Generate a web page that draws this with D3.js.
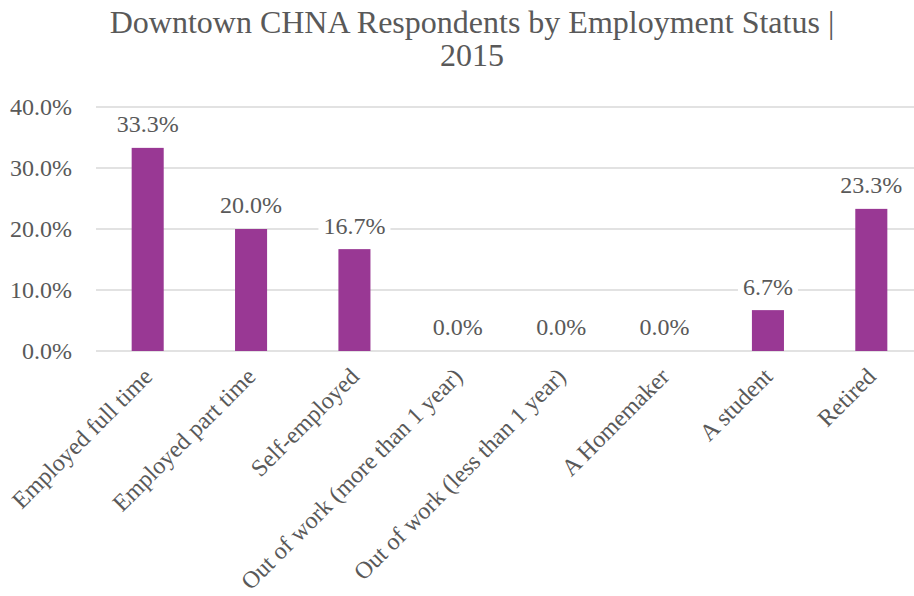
<!DOCTYPE html>
<html>
<head>
<meta charset="utf-8">
<script src="https://cdn.jsdelivr.net/npm/d3@7"></script>
<style>
  html, body { margin: 0; padding: 0; background: #ffffff; }
  svg { display: block; font-family: "Liberation Serif", "Times New Roman", serif; }
</style>
</head>
<body>
<svg id="chart" width="914" height="596"></svg>
<script>
const titleLines = ["Downtown CHNA Respondents by Employment Status |", "2015"];
const categories = [
  "Employed full time",
  "Employed part time",
  "Self-employed",
  "Out of work (more than 1 year)",
  "Out of work (less than 1 year)",
  "A Homemaker",
  "A student",
  "Retired"
];
const values = [0.333, 0.200, 0.167, 0.000, 0.000, 0.000, 0.067, 0.233];
const yTicks = [0, 0.1, 0.2, 0.3, 0.4];

const textColor = "#595959";
const gridColor = "#d9d9d9";
const barColor = "#993894";
const fontFamily = "'Liberation Serif', 'Times New Roman', serif";

const svg = d3.select("#chart");
const plotLeft = 96, plotRight = 923, plotTop = 107, plotBottom = 351;

const x = d3.scaleBand().domain(categories).range([plotLeft, plotRight]).paddingInner(0.69).paddingOuter(0.345);
const y = d3.scaleLinear().domain([0, 0.4]).range([plotBottom, plotTop]);
const fmt = d3.format(".1%");

// Title
svg.append("g").selectAll("text").data(titleLines).join("text")
  .attr("x", 472).attr("y", (d, i) => 33 + i * 33)
  .attr("text-anchor", "middle")
  .attr("fill", textColor)
  .style("font-size", "32px")
  .text(d => d);

// Gridlines
svg.append("g").selectAll("line").data(yTicks).join("line")
  .attr("x1", plotLeft).attr("x2", plotRight)
  .attr("y1", d => y(d)).attr("y2", d => y(d))
  .attr("stroke", gridColor).attr("stroke-width", 1.5);

// Y axis labels
const yAxis = d3.axisLeft(y).tickValues(yTicks).tickFormat(fmt).tickSize(0).tickPadding(24);
const yg = svg.append("g").attr("transform", `translate(${plotLeft},0)`).call(yAxis);
yg.select(".domain").remove();
yg.selectAll("text").attr("fill", textColor).style("font-size", "24px")
  .style("font-family", fontFamily);

// Bars
svg.append("g").selectAll("rect").data(values).join("rect")
  .attr("x", (d, i) => x(categories[i]))
  .attr("width", x.bandwidth())
  .attr("y", d => y(d))
  .attr("height", d => y(0) - y(d))
  .attr("fill", barColor);

// Value labels with white boxes
const lg = svg.append("g").selectAll("g").data(values).join("g")
  .attr("transform", (d, i) => `translate(${x(categories[i]) + x.bandwidth() / 2},${y(d) - 24})`);
lg.append("text")
  .attr("text-anchor", "middle").attr("dy", "0.35em")
  .attr("fill", textColor).style("font-size", "24px")
  .text(d => fmt(d));
lg.each(function() {
  const g = d3.select(this);
  const bb = g.select("text").node().getBBox();
  g.insert("rect", "text")
    .attr("x", bb.x - 5).attr("y", bb.y - 1)
    .attr("width", bb.width + 10).attr("height", bb.height + 2)
    .attr("fill", "#ffffff");
});

// Category labels
const xAxis = d3.axisBottom(x).tickSize(0).tickPadding(0);
const xg = svg.append("g").attr("transform", `translate(0,${plotBottom})`).call(xAxis);
xg.select(".domain").remove();
xg.selectAll("text")
  .attr("fill", textColor)
  .style("font-size", "24px")
  .style("font-family", fontFamily)
  .attr("text-anchor", "end")
  .attr("dy", 0).attr("y", 0)
  .attr("transform", "translate(6,27) rotate(-45)");
</script>
</body>
</html>
